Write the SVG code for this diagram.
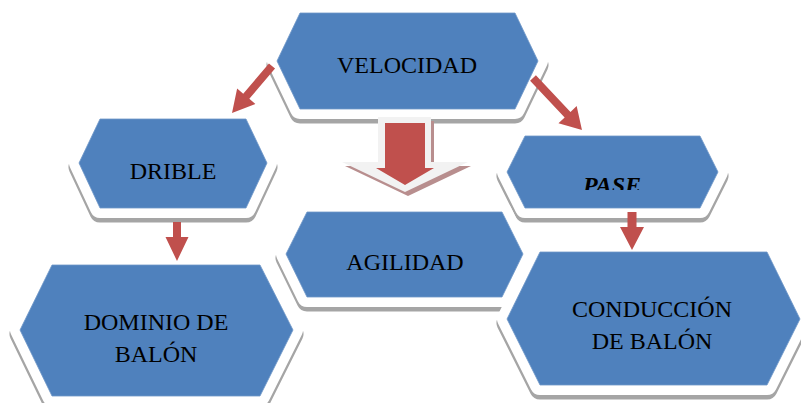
<svg xmlns="http://www.w3.org/2000/svg" xmlns:xlink="http://www.w3.org/1999/xlink" width="801" height="403" viewBox="0 0 801 403">
<style>
.sh{fill:#A5A5A5;stroke:#A5A5A5;stroke-width:21;stroke-linejoin:round}
.rg{fill:#FFFFFF;stroke:#FFFFFF;stroke-width:20;stroke-linejoin:round}
.hx{fill:#4F81BD;stroke:#6F97C8;stroke-width:0.8}
.t{font-family:"Liberation Serif","Times New Roman",serif;font-size:24px;fill:#000000;text-anchor:middle}
.tb{font-weight:bold;font-style:italic}
.ar{fill:#C0504D}
</style>
<defs>
<polygon id="p-vel" points="300,13 515,13 538,61 515,109 300,109 277,61"/>
<polygon id="p-dri" points="100,119 246,119 267,163 246,208 100,208 79,163"/>
<polygon id="p-pas" points="525,136 700,136 718,172 700,208 525,208 507,172"/>
<polygon id="p-agi" points="307,212 502,212 523,254 502,297 307,297 286,254"/>
<polygon id="p-dom" points="52,265 260,265 293,330 260,396 52,396 20,330"/>
<polygon id="p-con" points="540,252 767,252 800,319 767,385 540,385 507,319"/>
<clipPath id="clip-pase"><rect x="500" y="130" width="230" height="60"/></clipPath>
</defs>
<rect x="0" y="0" width="801" height="403" fill="#FFFFFF"/>

<g id="n-velocidad">
<use xlink:href="#p-vel" class="sh" transform="translate(0,4)"/>
<use xlink:href="#p-vel" class="rg"/>
<use xlink:href="#p-vel" class="hx"/>
<text class="t" x="407" y="73">VELOCIDAD</text>
</g>

<g id="n-drible">
<use xlink:href="#p-dri" class="sh" transform="translate(0,4)"/>
<use xlink:href="#p-dri" class="rg"/>
<use xlink:href="#p-dri" class="hx"/>
<text class="t" x="173" y="179">DRIBLE</text>
</g>

<g id="n-pase">
<use xlink:href="#p-pas" class="sh" transform="translate(0,4)"/>
<use xlink:href="#p-pas" class="rg"/>
<use xlink:href="#p-pas" class="hx"/>
<text class="t tb" x="612" y="193" clip-path="url(#clip-pase)">PASE</text>
</g>

<g id="n-agilidad">
<use xlink:href="#p-agi" class="sh" transform="translate(0,4)"/>
<use xlink:href="#p-agi" class="rg"/>
<use xlink:href="#p-agi" class="hx"/>
<text class="t" x="405" y="270">AGILIDAD</text>
</g>

<g id="n-dominio">
<use xlink:href="#p-dom" class="sh" transform="translate(0,4)"/>
<use xlink:href="#p-dom" class="rg"/>
<use xlink:href="#p-dom" class="hx"/>
<text class="t" x="156" y="330">DOMINIO DE</text>
<text class="t" x="156" y="362">BALÓN</text>
</g>

<g id="n-conduccion">
<use xlink:href="#p-con" class="sh" transform="translate(0,4)"/>
<use xlink:href="#p-con" class="rg"/>
<use xlink:href="#p-con" class="hx"/>
<text class="t" x="652" y="317">CONDUCCIÓN</text>
<text class="t" x="652" y="349">DE BALÓN</text>
</g>

<g id="connectors">
<polygon class="ar" transform="translate(272,66) rotate(130.4)" points="0,-4 39.7,-4 39.7,-12 61.7,0 39.7,12 39.7,4 0,4"/>
<polygon class="ar" transform="translate(533,78) rotate(46.7)" points="0,-4 50.4,-4 50.4,-12.5 71.4,0 50.4,12.5 50.4,4 0,4"/>
<polygon class="ar" points="173,222 181,222 181,237 188.5,237 177,261 165.5,237 173,237"/>
<polygon class="ar" points="627.5,212 636.5,212 636.5,227 644,227 632,250 620,227 627.5,227"/>
<g id="big-arrow">
<polygon fill="#B88E8E" transform="translate(3,4)" points="378,117 431,117 431,162 468,162 405,192 342,162 378,162"/>
<polygon fill="#F2F2F2" points="378,117 431,117 431,162 468,162 405,192 342,162 378,162"/>
<polygon class="ar" points="385,123 425,123 425,168 434,168 405,185 376,168 385,168"/>
</g>
</g>
</svg>
